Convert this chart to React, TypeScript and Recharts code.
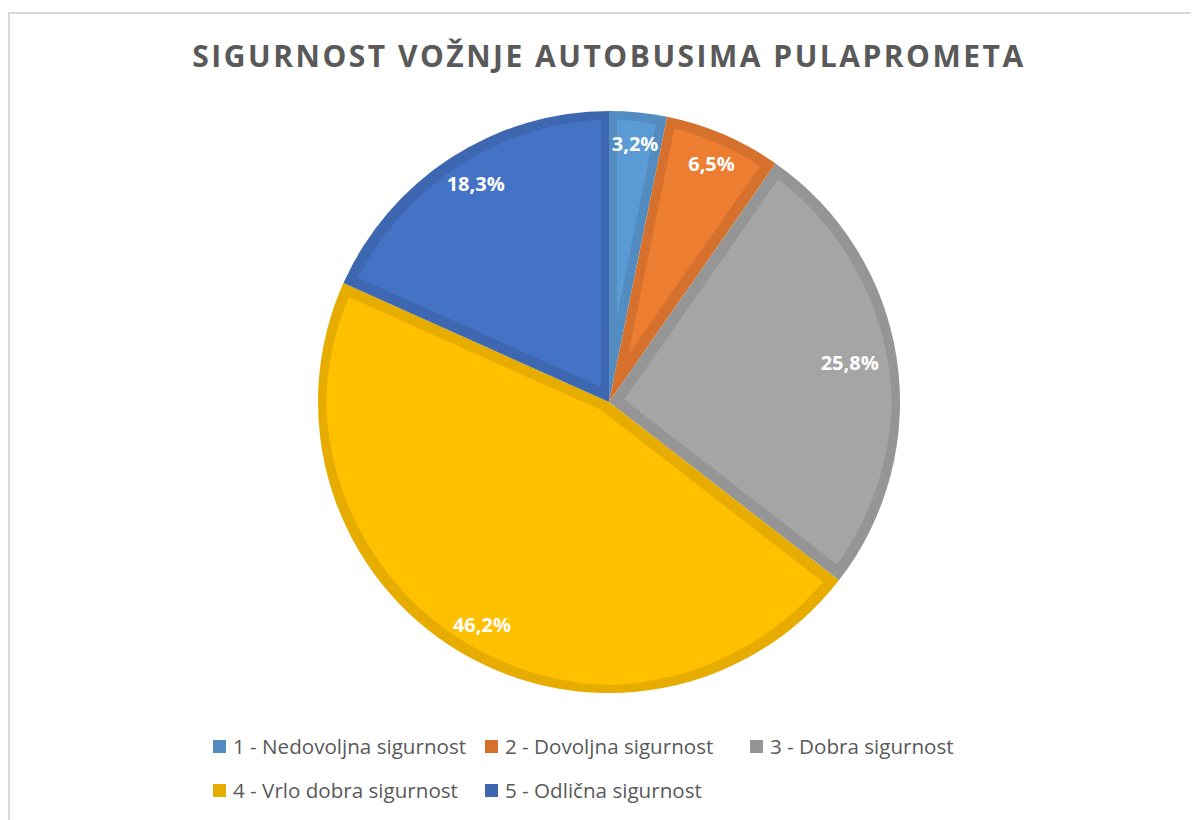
import { Cell, Legend, Pie, PieChart } from 'recharts'

const categories = [
  '1 - Nedovoljna sigurnost',
  '2 - Dovoljna sigurnost',
  '3 - Dobra sigurnost',
  '4 - Vrlo dobra sigurnost',
  '5 - Odlična sigurnost',
]
const shares = [3.2, 6.5, 25.8, 46.2, 18.3]
const fills = ['#5B9BD5', '#ED7D31', '#A5A5A5', '#FFC000', '#4472C4']
const legendFills = ['#528CC0', '#D5712C', '#959595', '#E6AD00', '#3D67B0']

const TITLE = 'SIGURNOST VOŽNJE AUTOBUSIMA PULAPROMETA'

const data = categories.map((name, i) => ({ name, value: shares[i] }))

const RAD = Math.PI / 180

function renderLabel(props: any) {
  const { cx, cy, midAngle, outerRadius, value } = props
  const r = outerRadius - 31
  let x = cx + r * Math.cos(-midAngle * RAD)
  const y = cy + r * Math.sin(-midAngle * RAD)
  // keep the label box inside the slice edge (inside-end style)
  const hw = 32
  const hh = 11
  const dy = Math.abs(y - cy) + hh
  const maxX = Math.sqrt(Math.max(outerRadius * outerRadius - dy * dy, 0)) - 14 - hw
  if (Math.abs(x - cx) > maxX) x = cx + Math.sign(x - cx) * maxX
  return (
    <text
      x={x}
      y={y}
      fill="#fff"
      textAnchor="middle"
      dominantBaseline="central"
      fontFamily="'Open Sans', sans-serif"
      fontWeight={700}
      fontSize={20}
    >
      {value.toFixed(1).replace('.', ',')}%
    </text>
  )
}

function LegendContent() {
  return (
    <div
      style={{
        display: 'grid',
        gridTemplateColumns: '272px 265px auto',
        gridAutoRows: '44px',
        fontFamily: "'Open Sans', sans-serif",
        fontSize: 20.6,
        color: '#595959',
      }}
    >
      {categories.map((name, i) => (
        <div key={name} style={{ display: 'flex', alignItems: 'center', whiteSpace: 'nowrap' }}>
          <span
            style={{
              display: 'inline-block',
              width: 13,
              height: 13,
              background: legendFills[i],
              marginRight: 7,
            }}
          />
          {name}
        </div>
      ))}
    </div>
  )
}

export default function App() {
  return (
    <div
      style={{
        position: 'relative',
        width: 1191,
        height: 808,
        marginTop: 4,
        borderLeft: '2px solid #d9d9d9',
        borderTop: '2px solid #d9d9d9',
        boxSizing: 'border-box',
        background: '#fff',
      }}
    >
      <PieChart width={1189} height={806} margin={{ top: 0, right: 0, bottom: 0, left: 0 }}>
        <defs>
          <filter id="inset" x="-5%" y="-5%" width="110%" height="110%" colorInterpolationFilters="sRGB">
            <feColorMatrix
              in="SourceGraphic"
              type="matrix"
              values="0.9 0 0 0 0  0 0.9 0 0 0  0 0 0.9 0 0  0 0 0 1 0"
              result="dark"
            />
            <feMorphology in="SourceGraphic" operator="erode" radius="8" result="inner" />
            <feMerge>
              <feMergeNode in="dark" />
              <feMergeNode in="inner" />
            </feMerge>
          </filter>
        </defs>
        <text
          x={599}
          y={53}
          textAnchor="middle"
          fill="#595959"
          fontFamily="'Open Sans', sans-serif"
          fontWeight={700}
          fontSize={30}
          letterSpacing={2.5}
        >
          {TITLE}
        </text>
        <Pie
          data={data}
          dataKey="value"
          nameKey="name"
          cx={599}
          cy={388}
          outerRadius={291}
          startAngle={90}
          endAngle={-270}
          stroke="none"
          label={renderLabel}
          labelLine={false}
          isAnimationActive={false}
        >
          {data.map((d, i) => (
            <Cell key={d.name} fill={fills[i]} filter="url(#inset)" />
          ))}
        </Pie>
        <Legend
          content={<LegendContent />}
          wrapperStyle={{ position: 'absolute', left: 203, top: 710, width: 800 }}
        />
      </PieChart>
    </div>
  )
}
